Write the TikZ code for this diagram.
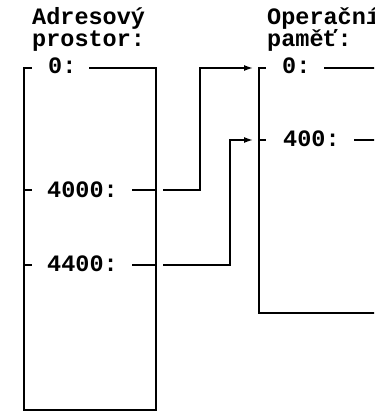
\documentclass[tikz,border=0pt]{standalone}
\usepackage{fontspec}
\setmonofont{Liberation Mono}
\usetikzlibrary{arrows.meta}
\begin{document}
\begin{tikzpicture}[x=1pt,y=-1pt,
  lbl/.style={anchor=base west,inner sep=0pt,font=\ttfamily\bfseries\fontsize{23.5}{26}\selectfont},
  ln/.style={line width=1.5pt,line cap=rect},
  conn/.style={line width=1.5pt,-{Latex[length=9pt,width=6pt]}}]
\useasboundingbox (0,0) rectangle (374,411);
\clip (0,0) rectangle (374,411);
% headings
\node[lbl] (h1a) at (32,25) {Adresový};
\node[lbl] (h1b) at (32,47) {prostor:};
\node[lbl] (h2a) at (267,25) {Operační};
\node[lbl] (h2b) at (267,47) {paměť:};
% address labels
\node[lbl] (a0) at (48,74) {0:};
\node[lbl] (a4000) at (47,197) {4000:};
\node[lbl] (a4400) at (47,271) {4400:};
\node[lbl] (m0) at (282,74) {0:};
\node[lbl] (m400) at (283,147) {400:};
% left box
\draw[ln] (31,68) -- (24,68) -- (24,410) -- (156,410) -- (156,68) -- (90,68);
\draw[ln] (24,190) -- (31,190);
\draw[ln] (133,190) -- (156,190);
\draw[ln] (24,265) -- (31,265);
\draw[ln] (133,265) -- (156,265);
% right box
\draw[ln] (265,68) -- (259,68) -- (259,313) -- (380,313);
\draw[ln] (325,68) -- (380,68);
\draw[ln] (259,140) -- (265,140);
\draw[ln] (355,140) -- (380,140);
% connectors
\coordinate (s1) at (163,190);
\coordinate (t1) at (253,68);
\coordinate (s2) at (163,265);
\coordinate (t2) at (253,140);
\draw[conn] (s1) -- (200,190) |- (t1);
\draw[conn] (s2) -- (230,265) |- (t2);
\end{tikzpicture}
\end{document}
